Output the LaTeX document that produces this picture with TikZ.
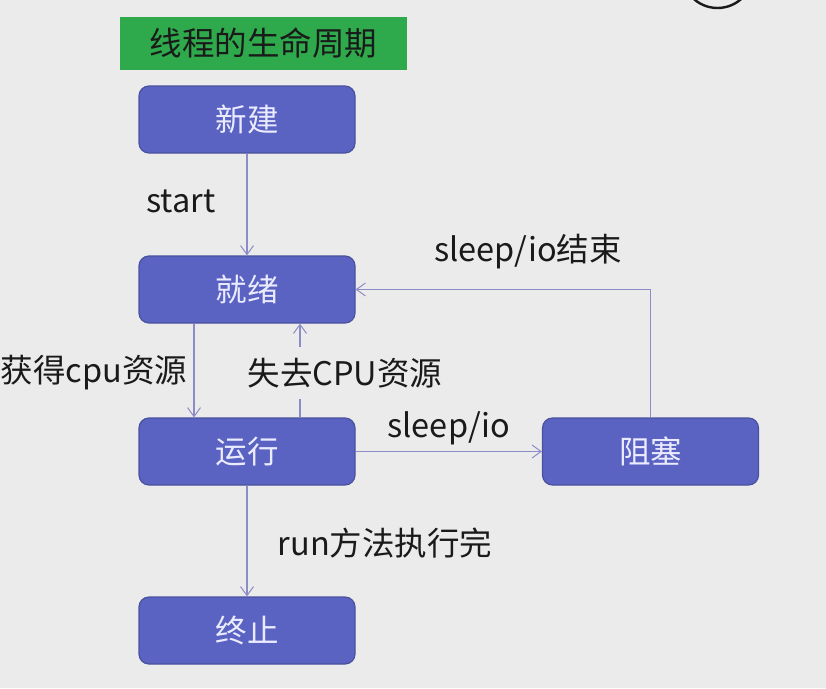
\documentclass[tikz,border=0pt]{standalone}
\usepackage{fontspec}
\setmainfont{Noto Sans CJK SC}
\usetikzlibrary{arrows.meta}
\definecolor{bg}{HTML}{EBEBEB}
\definecolor{boxfill}{HTML}{5B63C2}
\definecolor{boxline}{HTML}{4A519E}
\definecolor{titlegreen}{HTML}{2EA94B}
\definecolor{flow}{HTML}{8C8CC8}
\definecolor{ink}{HTML}{1A1A1A}
\tikzset{
  state/.style={draw=boxline, line width=1.2pt, fill=boxfill, rounded corners=10pt,
    minimum width=216pt, minimum height=67pt, inner sep=0pt,
    text=white!92!blue, font=\fontsize{31.5}{36}\selectfont},
  lbl/.style={text=ink, inner sep=2pt, font=\fontsize{32.5}{38}\selectfont},
  flowline/.style={draw=flow, line width=1.1pt, -{Straight Barb[length=9pt,width=13pt,line width=1pt]}},
}
\begin{document}
\begin{tikzpicture}[x=1pt,y=-1pt]
  % page and background
  \fill[bg] (0,0) rectangle (826,688);
  \useasboundingbox (0,0) rectangle (826,688);
  \begin{scope}
    \clip (0,0) rectangle (826,688);
    \draw[ink, line width=2.4pt] (717.5,-27.6) circle (35.6);
  \end{scope}

  % title
  \node[fill=titlegreen, minimum width=287pt, minimum height=53pt, inner sep=0pt,
        text=ink, font=\fontsize{32.5}{38}\selectfont] (title) at (263.5,43.5) {线程的生命周期};

  % states
  \node[state] (xinjian) at (247,119.5) {新建};
  \node[state] (jiuxu)   at (247,289.5) {就绪};
  \node[state] (yunxing) at (247,451.5) {运行};
  \node[state] (zusai)   at (650.5,451.5) {阻塞};
  \node[state] (zhongzhi) at (247,630.5) {终止};

  % transitions
  \draw[flowline] (xinjian.south) -- (jiuxu.north);
  \draw[flowline] ([xshift=-53pt]jiuxu.south) -- ([xshift=-53pt]yunxing.north);
  \draw[flowline] ([xshift=53pt]yunxing.north) -- ([xshift=53pt]jiuxu.south);
  \draw[flowline] (yunxing.east) -- (zusai.west);
  \draw[flowline] (zusai.north) |- (jiuxu.east);
  \draw[flowline] (yunxing.south) -- (zhongzhi.north);

  % transition labels
  \node[lbl] (lstart) at (181,201) {start};
  \node[lbl] (lget) at (94,373) {获得cpu资源};
  \node[lbl, fill=bg, minimum height=52pt] (llose) at (345,373) {失去CPU资源};
  \node[lbl] (lsleep) at (449,428) {sleep/io};
  \node[lbl] (lwake) at (528,252) {sleep/io结束};
  \node[lbl] (lrun) at (385,543) {run方法执行完};
\end{tikzpicture}
\end{document}
